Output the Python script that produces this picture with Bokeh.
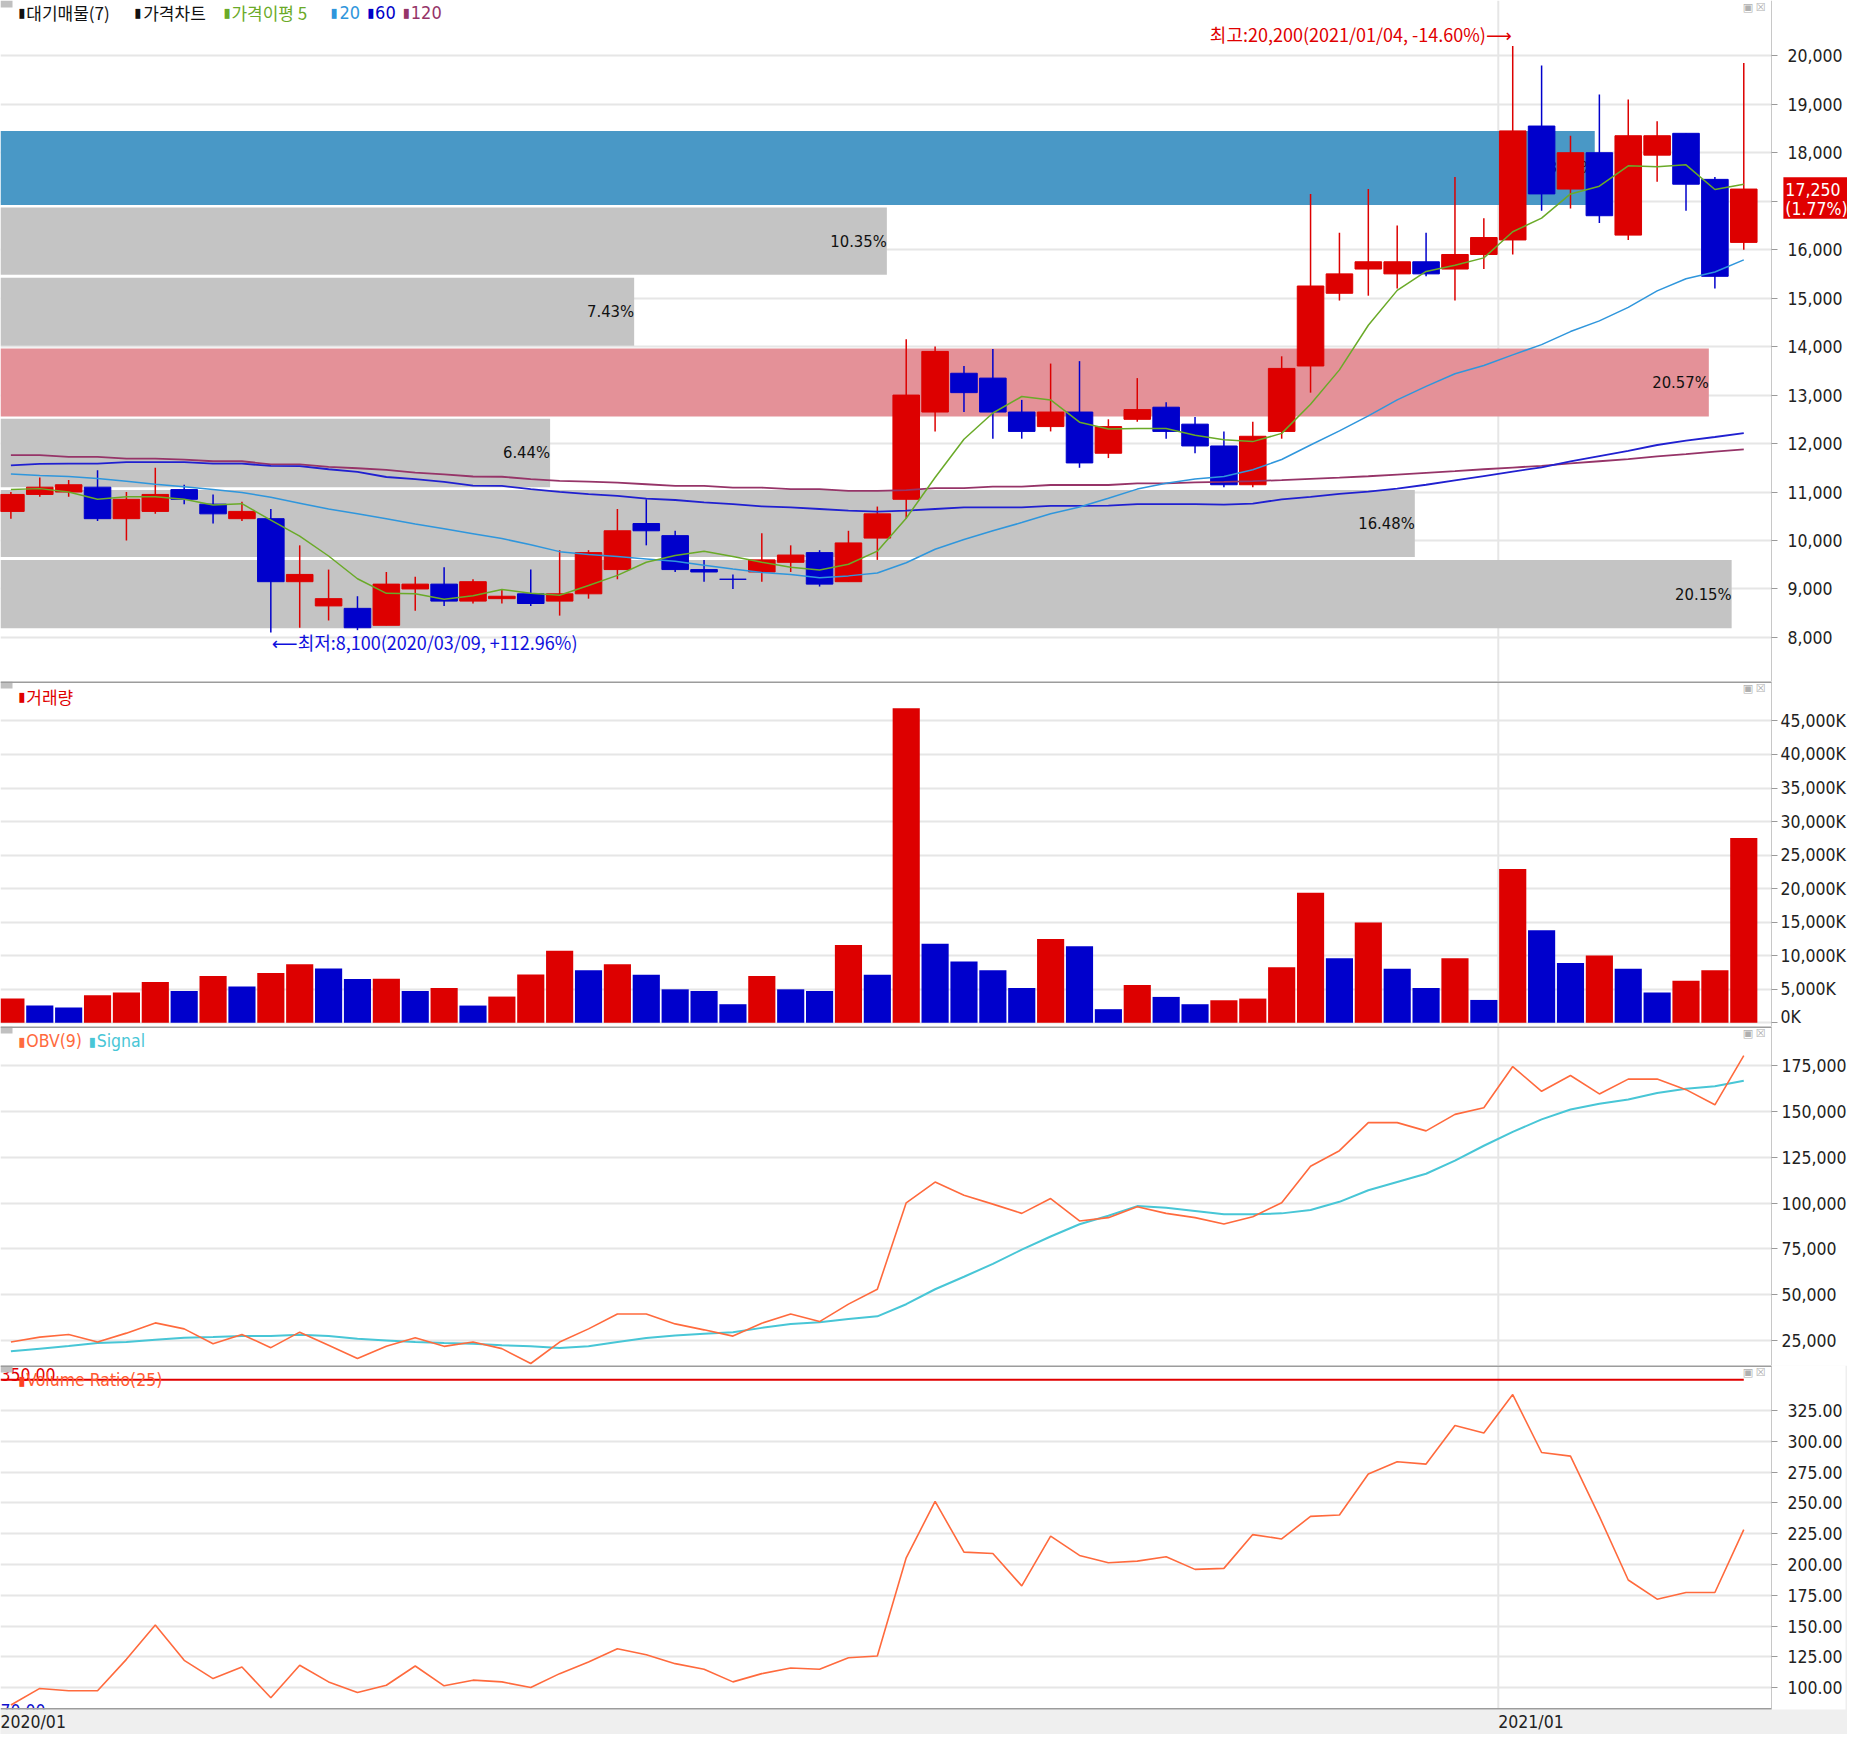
from bokeh.plotting import figure
from bokeh.layouts import column
from bokeh.models import Range1d, FixedTicker, Label, Span, BoxAnnotation, ColumnDataSource
from bokeh.core.properties import value
from bokeh.embed import file_html
from bokeh.resources import INLINE

# ---------------- data (weekly, 2020/01/06 .. 2021/03/01) ----------------
open_ = [10600, 10950, 11000, 11100, 10450, 10600, 11050, 10750, 10450, 10450,
         9150, 8650, 8600, 8250, 9000, 9100, 8750, 8800, 8900, 8750,
         8900, 9400, 10350, 10100, 9400, 9200, 9350, 9550, 9750, 9150,
         10050, 10850, 12650, 13450, 13350, 12650, 12350, 12650, 11800, 12500,
         12750, 12400, 11950, 11150, 12250, 13600, 15100, 15600, 15500, 15750,
         15600, 15900, 16200, 18550, 17250, 18000, 16300, 17950, 18400, 17450, 16150]
high = [11000, 11300, 11250, 11450, 11000, 11500, 11150, 10950, 10800, 10650,
        9900, 9400, 8850, 9350, 9250, 9450, 9200, 9000, 9400, 9800,
        9800, 10650, 10850, 10200, 9600, 9300, 10150, 9900, 9800, 10200,
        10700, 14150, 14000, 13600, 13950, 12900, 13650, 13700, 12500, 13350,
        12850, 12550, 12250, 12450, 13800, 17150, 16350, 17250, 16500, 16350,
        17500, 16650, 20200, 19800, 18350, 19200, 19100, 18650, 18400, 17500, 19850]
low = [10450, 10900, 10900, 10400, 10000, 10550, 10750, 10350, 10400, 8100,
       8200, 8350, 8150, 8250, 8550, 8650, 8700, 8700, 8650, 8450,
       8800, 9200, 9900, 9350, 9150, 9000, 9150, 9350, 9050, 9150,
       9600, 10450, 12250, 12650, 12100, 12100, 12250, 11500, 11700, 12450,
       12100, 11800, 11100, 11100, 12100, 13050, 14950, 15050, 15200, 15450,
       14950, 15600, 15900, 16800, 16850, 16550, 16200, 17400, 16800, 15200, 16000]
close = [10950, 11100, 11150, 10450, 10850, 10950, 10850, 10550, 10600, 9150,
         9300, 8800, 8200, 9100, 9100, 8750, 9150, 8850, 8700, 8900,
         9750, 10200, 10200, 9400, 9350, 9200, 9600, 9700, 9100, 9950,
         10550, 13000, 13900, 13050, 12650, 12250, 12650, 11600, 12350, 12700,
         12250, 11950, 11150, 12150, 13550, 15250, 15500, 15750, 15750, 15500,
         15900, 16250, 18450, 17150, 18000, 16700, 18350, 18350, 17350, 15450, 17250]

ma5 = [11050, 11070, 11000, 10850, 10900, 10900, 10850, 10730, 10760, 10420,
       10090, 9680, 9210, 8910, 8900, 8790, 8860, 8990, 8910, 8870,
       9070, 9280, 9550, 9690, 9780, 9670, 9550, 9450, 9390, 9510,
       9780, 10460, 11300, 12090, 12630, 12970, 12900, 12440, 12300, 12310,
       12310, 12170, 12080, 12040, 12210, 12810, 13520, 14440, 15160, 15550,
       15680, 15830, 16370, 16650, 17150, 17310, 17730, 17710, 17750, 17240, 17350]
ma20 = [11370, 11340, 11320, 11280, 11220, 11160, 11110, 11050, 10990, 10890,
        10770, 10650, 10550, 10450, 10340, 10240, 10140, 10040, 9910, 9770,
        9710, 9670, 9620, 9570, 9490, 9410, 9340, 9300, 9230, 9270,
        9330, 9540, 9820, 10020, 10200, 10370, 10550, 10690, 10870, 11060,
        11180, 11270, 11320, 11460, 11670, 11970, 12260, 12570, 12900, 13180,
        13440, 13610, 13830, 14040, 14310, 14530, 14810, 15150, 15400, 15540, 15790]
ma60 = [11550, 11580, 11585, 11585, 11615, 11615, 11615, 11585, 11585, 11540,
        11535, 11470, 11415, 11310, 11265, 11210, 11130, 11125, 11060, 11005,
        10955, 10920, 10865, 10835, 10785, 10750, 10705, 10685, 10650, 10615,
        10595, 10615, 10650, 10685, 10685, 10685, 10715, 10715, 10720, 10750,
        10750, 10750, 10740, 10760, 10850, 10900, 10960, 11010, 11070, 11150,
        11240, 11330, 11420, 11510, 11630, 11740, 11850, 11970, 12060, 12135, 12215]
ma120 = [11760, 11760, 11725, 11725, 11690, 11690, 11670, 11635, 11635, 11570,
         11570, 11520, 11490, 11455, 11400, 11365, 11320, 11315, 11265, 11230,
         11215, 11195, 11160, 11125, 11125, 11090, 11090, 11060, 11060, 11025,
         11025, 11040, 11080, 11080, 11110, 11110, 11145, 11145, 11145, 11180,
         11180, 11200, 11210, 11225, 11245, 11270, 11295, 11325, 11360, 11395,
         11430, 11470, 11505, 11540, 11590, 11635, 11680, 11735, 11780, 11835, 11880]

volume_k = [3600, 2560, 2270, 4090, 4490, 6060, 4730, 6950, 5420, 7400,
            8730, 8090, 6510, 6550, 4730, 5180, 2560, 3900, 7200, 10750,
            7840, 8730, 7150, 4980, 4730, 2760, 6950, 4980, 4730, 11590,
            7150, 46900, 11780, 9120, 7840, 5180, 12470, 11390, 2020, 5620,
            3850, 2760, 3350, 3600, 8280, 19380, 9610, 14940, 8040, 5180,
            9610, 3400, 22930, 13800, 8920, 10010, 8040, 4490, 6260, 7840, 27560]

obv = [24130, 26840, 28280, 24130, 29000, 34590, 31340, 23230, 28280, 21070,
       29540, 22330, 15120, 21790, 26480, 21790, 24130, 20530, 12420, 24130,
       31340, 39450, 39450, 34050, 30800, 27380, 34410, 39450, 35310, 44860,
       52970, 100200, 111550, 104340, 99480, 94430, 102540, 90280, 92090, 98030,
       94430, 92090, 88660, 92630, 100200, 120200, 128680, 144000, 144000, 139490,
       148500, 152110, 174640, 161120, 169770, 159680, 167790, 167790, 162020, 153730, 180590]
obv_signal = [19080, 20530, 21970, 23590, 24130, 25390, 26480, 26840, 27380, 27380,
              28100, 27380, 25930, 25030, 24130, 23590, 23230, 22330, 21790, 20890,
              21790, 24130, 26300, 27740, 28640, 29540, 31880, 34050, 34950, 36750,
              38190, 44800, 52970, 59820, 66850, 74600, 81810, 88480, 93170, 98400,
              97490, 95690, 93890, 93890, 94430, 96230, 100740, 107050, 111550, 116060,
              123270, 131380, 138950, 145800, 151210, 154270, 156620, 160220, 162560, 163830, 166890]

vol_ratio = [86, 99.5, 97.6, 97.6, 123.1, 151.0, 122.3, 107.5, 116.9, 91.9,
             118.3, 104.8, 96.2, 102.1, 117.7, 101.6, 106.2, 104.8, 100.3, 111.5,
             120.9, 131.7, 126.8, 119.6, 115.0, 104.8, 111.5, 116.1, 115.0, 124.4,
             125.8, 205.5, 251.2, 210.1, 209.0, 182.7, 223.0, 207.4, 201.5, 202.8,
             206.3, 196.1, 196.9, 224.3, 220.8, 239.1, 240.2, 273.4, 283.4, 281.5,
             312.9, 306.7, 337.9, 290.9, 288.0, 239.1, 187.5, 171.9, 177.3, 177.3, 228.3]
vr_ref_level = 350

# supply (대기매물) bands
band_low = [8190, 9660, 11100, 12560, 14020, 15480, 16920]
band_high = [9600, 11040, 12510, 13960, 15420, 16870, 18450]
band_end = [59.58, 48.61, 18.67, 58.79, 21.58, 30.33, 54.84]
band_pct = ["20.15%", "16.48%", "6.44%", "20.57%", "7.43%", "10.35%", "18.58%"]
band_kind = ["gray", "gray", "gray", "max", "gray", "gray", "current"]

price_ticks = list(range(8000, 20001, 1000))
# the 17,000 label sits under the current-price box in the original, so it is blank
price_tick_labels = ["" if t == 17000 else f"{t:,}" for t in price_ticks]
vol_ticks = list(range(0, 45001, 5000))
vol_tick_labels = [f"{t:,}K" for t in vol_ticks]
obv_ticks = list(range(25000, 175001, 25000))
obv_tick_labels = [f"{t:,}" for t in obv_ticks]
vr_ticks = list(range(100, 326, 25))
vr_tick_labels = [f"{t:.2f}" for t in vr_ticks]
month_grid = [51.5]
month_labels = ["2020/01", "2021/01"]

hi_idx, hi_text = 52, "최고:20,200(2021/01/04, -14.60%)⟶"
lo_idx, lo_text = 9, "⟵최저:8,100(2020/03/09, +112.96%)"
last_close_text, last_change_text = "17,250", "(1.77%)"

# ---------------- styling ----------------
N = len(close)
idx = list(range(N))
UP, DOWN = "#dd0000", "#0000cc"
GREEN, LBLUE, BLUE, MAROON = "#6aaa28", "#2f96dc", "#2020d0", "#963468"
OBV_C, SIG_C, VR_C = "#ff6a3d", "#48c6d6", "#ff6a3d"
GRID = "#e6e6e6"
NARROW = "DejaVu Sans Condensed, Liberation Sans Narrow, sans-serif"
KR = "Noto Sans CJK KR, DejaVu Sans, sans-serif"
SYM = "DejaVu Sans, sans-serif"
NS = "17.5px"
BAND_COL = {"gray": "#c4c4c4", "max": "#e49198", "current": "#4998c6"}

SX, SY = 1771 / 1787, 1730 / 1746
FW, RB = 1771, 76
X0, X1 = -0.36, 60.96
xr = Range1d(X0, X1)
PXX = FW / (X1 - X0)
XE = X1 + RB / PXX        # right end of the axis strip, in index units


def style_axis(ax, ticks, labels, standoff):
    ax.ticker = FixedTicker(ticks=ticks)
    ax.major_label_overrides = dict(zip(ticks, labels))
    ax.major_tick_out = 6
    ax.major_tick_in = 0
    ax.major_tick_line_color = "#9a9a9a"
    ax.minor_tick_line_color = None
    ax.axis_line_color = "#c8c8c8"
    ax.major_label_standoff = standoff
    ax.major_label_text_font = NARROW
    ax.major_label_text_font_size = NS
    ax.major_label_text_color = "#222222"


def panel(h, y0, y1, ticks, labels, standoff, bottom_axis=False):
    p = figure(frame_width=FW, frame_height=h, x_range=xr, y_range=Range1d(y0, y1),
               y_axis_location="right", x_axis_location="below" if bottom_axis else None,
               output_backend="svg", toolbar_location=None,
               min_border_left=0, min_border_right=RB, min_border_top=0,
               min_border_bottom=21 if bottom_axis else 0,
               background_fill_color="white",
               border_fill_color="#efefef" if bottom_axis else "white",
               outline_line_color=None)
    style_axis(p.yaxis[0], ticks, labels, standoff)
    if bottom_axis:
        try:
            p.yaxis[0].background_fill_color = "white"
        except AttributeError:
            pass
    p.ygrid.grid_line_color = GRID
    p.ygrid.grid_line_width = 2
    p.xgrid.visible = False
    p.add_layout(Span(location=month_grid[0], dimension="height", line_color=GRID,
                      line_width=2, level="underlay"))
    return p


def lab(p, h, x, yt, text, color, font, size, align="left"):
    p.add_layout(Label(x=x * SX, y=h - yt * SY, x_units="screen", y_units="screen",
                       text=text, text_color=color, text_font=font, text_font_size=size,
                       text_align=align, text_baseline="middle"))


def chrome(p, h, y0, y1, top_sep=True):
    py = h / (y1 - y0)
    p.add_layout(BoxAnnotation(left=X0, right=X0 + 12 / PXX, top=y1, bottom=y1 - 7 / py,
                               fill_color="#c0c0c0", fill_alpha=1, line_color=None))
    lab(p, h, 1758, 7.5, "▣", "#b0b0b0", SYM, "11px")
    lab(p, h, 1771, 7.5, "☒", "#b0b0b0", SYM, "11px")
    if top_sep:
        p.add_layout(Span(location=y1, dimension="width", line_color="#9c9c9c", line_width=3))


H_P, H_V, H_O, H_R = 681, 345, 339, 344

# ---------------- price panel ----------------
# Its frame spans the axis strip too, so the current-price box can be a glyph there;
# the price axis is pinned at the right end of the data area.
PY0, PY1 = 7091, 21140
PPY = H_P / (PY1 - PY0)
pp = figure(frame_width=FW + RB, frame_height=H_P, x_range=Range1d(X0, XE),
            y_range=Range1d(PY0, PY1), y_axis_location="right", x_axis_location=None,
            output_backend="svg", toolbar_location=None,
            min_border_left=0, min_border_right=0, min_border_top=0, min_border_bottom=0,
            background_fill_color="white", border_fill_color="white",
            outline_line_color=None)
style_axis(pp.yaxis[0], price_ticks, price_tick_labels, 10)
pp.yaxis[0].fixed_location = X1
pp.ygrid.grid_line_color = GRID
pp.ygrid.grid_line_width = 2
pp.xgrid.visible = False
pp.add_layout(Span(location=month_grid[0], dimension="height", line_color=GRID,
                   line_width=2, level="underlay"))

# white axis strip (hides the grid lines there)
pp.quad(left=[X1], right=[XE], bottom=[PY0], top=[PY1], fill_color="white", line_color=None)

pp.quad(left=[X0] * len(band_low), right=band_end, bottom=band_low, top=band_high,
        fill_color=[BAND_COL[k] for k in band_kind], line_color=None)
pp.text(x=band_end, y=[(a + b) / 2 for a, b in zip(band_low, band_high)], text=band_pct,
        text_align="right", text_baseline="middle", text_font=value(NARROW),
        text_font_size="16.5px", text_color="#111111")

ccol = [UP if c > o else DOWN for o, c in zip(open_, close)]
csrc = ColumnDataSource(dict(x=idx, high=high, low=low,
                             top=[max(o, c) for o, c in zip(open_, close)],
                             bottom=[min(o, c) for o, c in zip(open_, close)],
                             color=ccol))
pp.segment(x0="x", y0="low", x1="x", y1="high", line_color="color", line_width=1.5, source=csrc)
pp.vbar(x="x", width=0.92, top="top", bottom="bottom", fill_color="color",
        line_color="color", line_width=1, source=csrc)

pp.line(idx, ma120, line_color=MAROON, line_width=1.8)
pp.line(idx, ma60, line_color=BLUE, line_width=1.8)
pp.line(idx, ma20, line_color=LBLUE, line_width=1.5)
pp.line(idx, ma5, line_color=GREEN, line_width=1.5)

# current-price box on the axis strip
pp.quad(left=[X1 + 12 * SX / PXX], right=[XE], top=[close[-1] + 12 * SY / PPY],
        bottom=[close[-1] - 30 * SY / PPY], fill_color="#e00000", line_color=None)
pp.text(x=[X1 + 14 * SX / PXX] * 2, y=[close[-1], close[-1] - 20 * SY / PPY],
        text=[last_close_text, last_change_text], text_align="left", text_baseline="middle",
        text_font=value(NARROW), text_font_size=NS, text_color="white")

pp.add_layout(Label(x=hi_idx, y=high[hi_idx], text=hi_text, text_align="right",
                    text_baseline="middle", y_offset=12, x_offset=-1, text_color="#e00000",
                    text_font=KR, text_font_size="18px"))
pp.add_layout(Label(x=lo_idx, y=low[lo_idx], text=lo_text, text_align="left",
                    text_baseline="middle", y_offset=-9, x_offset=1, text_color="#1010dd",
                    text_font=KR, text_font_size="18px"))

legend_items = [("▮", 18, "#111111", SYM, "13px"), ("대기매물(7)", 26, "#111111", KR, "17px"),
                ("▮", 135, "#111111", SYM, "13px"), ("가격차트", 144, "#111111", KR, "17px"),
                ("▮", 225, GREEN, SYM, "13px"), ("가격이평 5", 233, GREEN, KR, "17px"),
                ("▮", 333, LBLUE, SYM, "13px"), ("20", 342, LBLUE, NARROW, "18px"),
                ("▮", 370, "#0000c8", SYM, "13px"), ("60", 378, "#0000c8", NARROW, "18px"),
                ("▮", 406, MAROON, SYM, "13px"), ("120", 414, MAROON, NARROW, "18px")]
for t, x, c, f, s in legend_items:
    lab(pp, H_P, x, 12.5, t, c, f, s)
chrome(pp, H_P, PY0, PY1, top_sep=False)

# ---------------- volume panel ----------------
VY0, VY1 = -562, 50884
pv = panel(H_V, VY0, VY1, vol_ticks, vol_tick_labels, 3)
vcol = [UP if i == 0 or volume_k[i] >= volume_k[i - 1] else DOWN for i in idx]
pv.vbar(x=idx, width=0.94, top=volume_k, bottom=0, fill_color=vcol, line_color=None)
lab(pv, H_V, 18, 15, "▮", "#e00000", SYM, "13px")
lab(pv, H_V, 26, 15, "거래량", "#e00000", KR, "17px")
chrome(pv, H_V, VY0, VY1)

# ---------------- OBV panel ----------------
OY0, OY1 = 11319, 196523
po = panel(H_O, OY0, OY1, obv_ticks, obv_tick_labels, 4)
po.line(idx, obv_signal, line_color=SIG_C, line_width=2)
po.line(idx, obv, line_color=OBV_C, line_width=1.6)
lab(po, H_O, 18, 15, "▮", OBV_C, SYM, "13px")
lab(po, H_O, 26, 15, "OBV(9)", OBV_C, NARROW, NS)
lab(po, H_O, 89, 15, "▮", SIG_C, SYM, "13px")
lab(po, H_O, 97, 15, "Signal", SIG_C, NARROW, NS)
chrome(po, H_O, OY0, OY1)

# ---------------- Volume Ratio panel ----------------
RY0, RY1 = 82.4, 361.5
pr = panel(H_R, RY0, RY1, vr_ticks, vr_tick_labels, 10, bottom_axis=True)
pr.line([X0, idx[-1]], [vr_ref_level, vr_ref_level], line_color="#e00000", line_width=2)
pr.text(x=[X0], y=[vr_ref_level], text=[f"{vr_ref_level:.2f}"], text_align="left",
        text_baseline="alphabetic", y_offset=-5, text_font=value(NARROW),
        text_font_size=NS, text_color="#e00000")
pr.text(x=[X0], y=[RY0], text=["70.00"], text_align="left", text_baseline="top",
        y_offset=-6, text_font=value(NARROW), text_font_size=NS, text_color="#1010cc")
pr.line(idx, vol_ratio, line_color=VR_C, line_width=1.6)
lab(pr, H_R, 18, 15, "▮", "#ff4020", SYM, "13px")
lab(pr, H_R, 26, 15, "Volume Ratio(25)", "#ff5a30", NARROW, NS)
chrome(pr, H_R, RY0, RY1)
pr.add_layout(Span(location=RY0, dimension="width", line_color="#9c9c9c", line_width=3))

xa = pr.xaxis[0]
half = 0.5 * 17.5 * (6 * 0.572 + 0.303) / PXX
xt = [X0 + half, month_grid[0] + half]
xa.ticker = FixedTicker(ticks=xt)
xa.major_label_overrides = dict(zip(xt, month_labels))
xa.major_tick_out = 0
xa.major_tick_in = 0
xa.minor_tick_line_color = None
xa.axis_line_color = None
xa.major_label_standoff = 2
xa.major_label_text_font = NARROW
xa.major_label_text_font_size = NS
xa.major_label_text_color = "#222222"
try:
    xa.background_fill_color = "#efefef"
except AttributeError:
    pass

layout = column(pp, pv, po, pr, spacing=0)
open("out.html", "w").write(file_html(layout, INLINE))
